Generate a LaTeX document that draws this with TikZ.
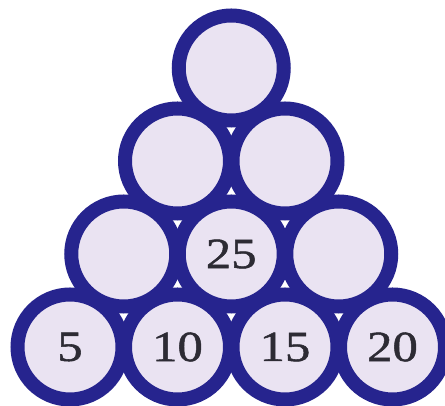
\documentclass[tikz,border=0pt]{standalone}
\usepackage{fontspec}
\newfontfamily\numfont[FakeStretch=1.18,FakeBold=1.2]{Liberation Serif}
\definecolor{ringblue}{RGB}{38,36,142}
\definecolor{lavfill}{RGB}{234,227,242}
\definecolor{numtext}{RGB}{45,43,52}
\begin{document}
\begin{tikzpicture}[x=1pt,y=1pt,
  ball/.style={circle,draw=ringblue,fill=lavfill,line width=14pt,
    minimum size=105pt,inner sep=0pt,outer sep=0pt,
    font=\numfont\fontsize{43}{43}\selectfont,text=numtext}]
\fill[white] (0,0) rectangle (445,406);
\useasboundingbox (0,0) rectangle (445,406);
% bottom row (image y = 347)
\node[ball] (d1) at (70,59) {5};
\node[ball] (d2) at (177.5,59) {10};
\node[ball] (d3) at (285,59) {15};
\node[ball] (d4) at (392.5,59) {20};
% third row (image y = 254)
\node[ball] (c1) at (123.75,152) {};
\node[ball] (c2) at (231.25,152) {25};
\node[ball] (c3) at (338.75,152) {};
% second row (image y = 161)
\node[ball] (b1) at (177.5,245) {};
\node[ball] (b2) at (285,245) {};
% top (image y = 68)
\node[ball] (a1) at (231.25,338) {};
\end{tikzpicture}
\end{document}
